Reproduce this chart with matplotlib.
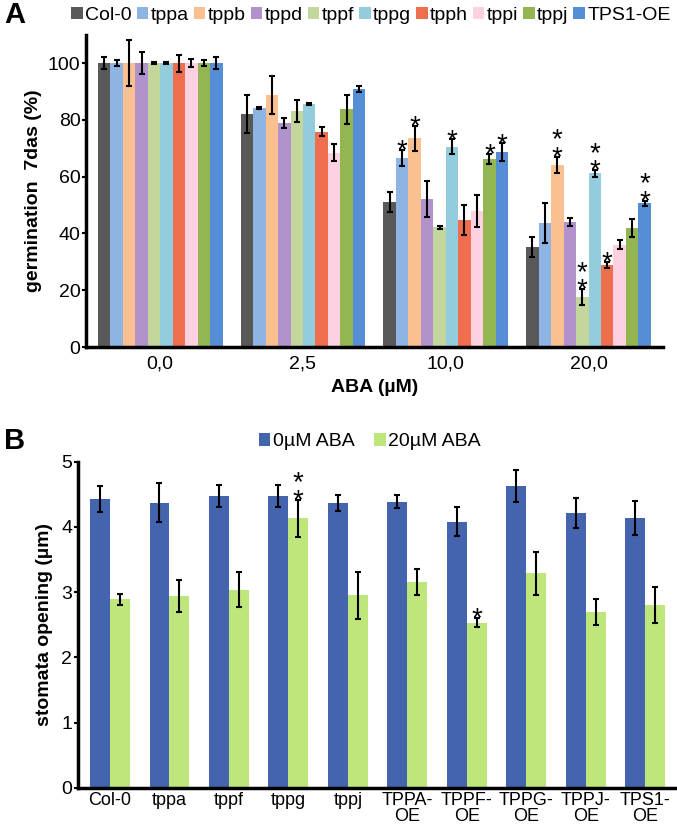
import matplotlib.pyplot as plt
import numpy as np

plt.rcParams['font.family'] = ['Liberation Sans', 'DejaVu Sans']

# ---- panel A data: germination 7das (%)
aba_levels = ['0,0', '2,5', '10,0', '20,0']
lines_a = ['Col-0', 'tppa', 'tppb', 'tppd', 'tppf', 'tppg', 'tpph', 'tppi', 'tppj', 'TPS1-OE']
colors_a = ['#595959', '#8DB4E2', '#FAC090', '#B292CC', '#C3D69B',
            '#93CDDD', '#EF6E4E', '#FDD0E2', '#93B552', '#568ED5']
germ = {
    'Col-0':   [100.0, 82.0, 51.0, 35.2],
    'tppa':    [100.0, 84.3, 66.6, 43.6],
    'tppb':    [100.0, 88.8, 73.6, 64.2],
    'tppd':    [100.0, 79.0, 52.2, 44.0],
    'tppf':    [100.0, 83.0, 42.2, 17.6],
    'tppg':    [100.0, 85.7, 70.6, 61.2],
    'tpph':    [100.0, 75.9, 44.8, 29.0],
    'tppi':    [100.0, 68.5, 47.8, 36.0],
    'tppj':    [100.0, 83.7, 66.1, 42.0],
    'TPS1-OE': [100.0, 90.8, 68.7, 50.6],
}
germ_err = {
    'Col-0':   [2.0, 6.6, 3.6, 3.5],
    'tppa':    [1.0, 0.3, 2.9, 7.0],
    'tppb':    [8.0, 6.7, 4.4, 2.9],
    'tppd':    [4.0, 1.7, 6.4, 1.3],
    'tppf':    [0.3, 3.9, 0.5, 2.8],
    'tppg':    [0.3, 0.3, 2.5, 1.3],
    'tpph':    [3.0, 1.5, 5.4, 1.0],
    'tppi':    [1.5, 3.1, 5.6, 1.6],
    'tppj':    [1.0, 5.0, 1.8, 3.2],
    'TPS1-OE': [2.0, 1.0, 3.0, 1.0],
}
# number of asterisks above each bar
germ_stars = {
    'Col-0':   [0, 0, 0, 0],
    'tppa':    [0, 0, 1, 0],
    'tppb':    [0, 0, 1, 2],
    'tppd':    [0, 0, 0, 0],
    'tppf':    [0, 0, 0, 2],
    'tppg':    [0, 0, 1, 2],
    'tpph':    [0, 0, 0, 1],
    'tppi':    [0, 0, 0, 0],
    'tppj':    [0, 0, 1, 0],
    'TPS1-OE': [0, 0, 1, 2],
}

# ---- panel B data: stomata opening (um)
genotypes_b = ['Col-0', 'tppa', 'tppf', 'tppg', 'tppj',
               'TPPA-\nOE', 'TPPF-\nOE', 'TPPG-\nOE', 'TPPJ-\nOE', 'TPS1-\nOE']
open_0 = [4.43, 4.37, 4.48, 4.47, 4.37, 4.39, 4.08, 4.63, 4.21, 4.14]
open_0_err = [0.20, 0.30, 0.17, 0.17, 0.12, 0.10, 0.22, 0.25, 0.23, 0.26]
open_20 = [2.89, 2.94, 3.04, 4.13, 2.95, 3.15, 2.53, 3.29, 2.70, 2.80]
open_20_err = [0.08, 0.25, 0.27, 0.29, 0.36, 0.20, 0.07, 0.33, 0.20, 0.28]
open_20_stars = [0, 0, 0, 2, 0, 0, 1, 0, 0, 0]


def add_stars(ax, x, top, n):
    # stacked asterisks as one text; va='baseline' uses the last line,
    # so the lowest star sits just above the cap
    ax.annotate('\n'.join(['*'] * n), (x, top), xytext=(0, -6),
                textcoords='offset points', ha='center', va='baseline',
                fontsize=20, linespacing=0.56)


def style_axes(ax):
    for s in ['top', 'right']:
        ax.spines[s].set_visible(False)
    for s in ['left', 'bottom']:
        ax.spines[s].set_linewidth(2.5)
    ax.tick_params(axis='y', length=3, width=1.5, labelsize=14, pad=1)
    ax.tick_params(axis='x', length=0, labelsize=14, pad=6)


fig = plt.figure(figsize=(6.77, 8.35), dpi=100)

# panel A
axA = fig.add_axes([0.127, 0.5844, 0.852, 0.374])
xg = np.arange(len(aba_levels))
w = 0.0874
for i, name in enumerate(lines_a):
    pos = xg + (i - 4.5) * w
    axA.bar(pos, germ[name], w, color=colors_a[i], label=name,
            yerr=germ_err[name], capsize=2.5,
            error_kw=dict(elinewidth=1.5, capthick=1.5, ecolor='black'))
    for j in range(len(aba_levels)):
        if germ_stars[name][j]:
            add_stars(axA, pos[j], germ[name][j] + germ_err[name][j], germ_stars[name][j])
axA.set_xlim(-0.52, 3.52)
axA.set_ylim(0, 110)
axA.set_yticks([0, 20, 40, 60, 80, 100])
axA.set_xticks(xg)
axA.set_xticklabels(aba_levels)
style_axes(axA)
axA.set_ylabel('germination  7das (%)', fontsize=14, fontweight='bold', labelpad=4)
axA.set_xlabel('ABA (µM)', fontsize=14, fontweight='bold', labelpad=5)
fig.legend(*axA.get_legend_handles_labels(), loc='center', bbox_to_anchor=(0.548, 0.982),
           ncol=10, frameon=False, fontsize=14, handlelength=0.6, handleheight=0.6,
           handletextpad=0.12, columnspacing=0.25, borderaxespad=0)

# panel B
axB = fig.add_axes([0.115, 0.0566, 0.882, 0.3904])
xb = np.arange(len(genotypes_b))
wb = 0.335
err_kw = dict(elinewidth=1.5, capthick=1.5, ecolor='black')
axB.bar(xb - wb / 2, open_0, wb, color='#4464AD', label='0µM ABA',
        yerr=open_0_err, capsize=2.5, error_kw=err_kw)
axB.bar(xb + wb / 2, open_20, wb, color='#BFE67A', label='20µM ABA',
        yerr=open_20_err, capsize=2.5, error_kw=err_kw)
for j in range(len(genotypes_b)):
    if open_20_stars[j]:
        add_stars(axB, xb[j] + wb / 2, open_20[j] + open_20_err[j], open_20_stars[j])
axB.set_xlim(-0.54, 9.5)
axB.set_ylim(0, 5)
axB.set_yticks([0, 1, 2, 3, 4, 5])
axB.set_xticks(xb)
axB.set_xticklabels(genotypes_b, fontsize=13, linespacing=0.95)
style_axes(axB)
axB.tick_params(axis='x', labelsize=13, pad=3)
axB.set_ylabel('stomata opening (µm)', fontsize=14, fontweight='bold', labelpad=6)
fig.legend(*axB.get_legend_handles_labels(), loc='center', bbox_to_anchor=(0.546, 0.471),
           ncol=2, frameon=False, fontsize=14, handlelength=0.6, handleheight=0.6,
           handletextpad=0.12, columnspacing=1.0, borderaxespad=0)

fig.text(0.006, 0.982, 'A', fontsize=21, fontweight='bold', va='center')
fig.text(0.006, 0.472, 'B', fontsize=21, fontweight='bold', va='center')

fig.savefig('out.png', dpi=100)
